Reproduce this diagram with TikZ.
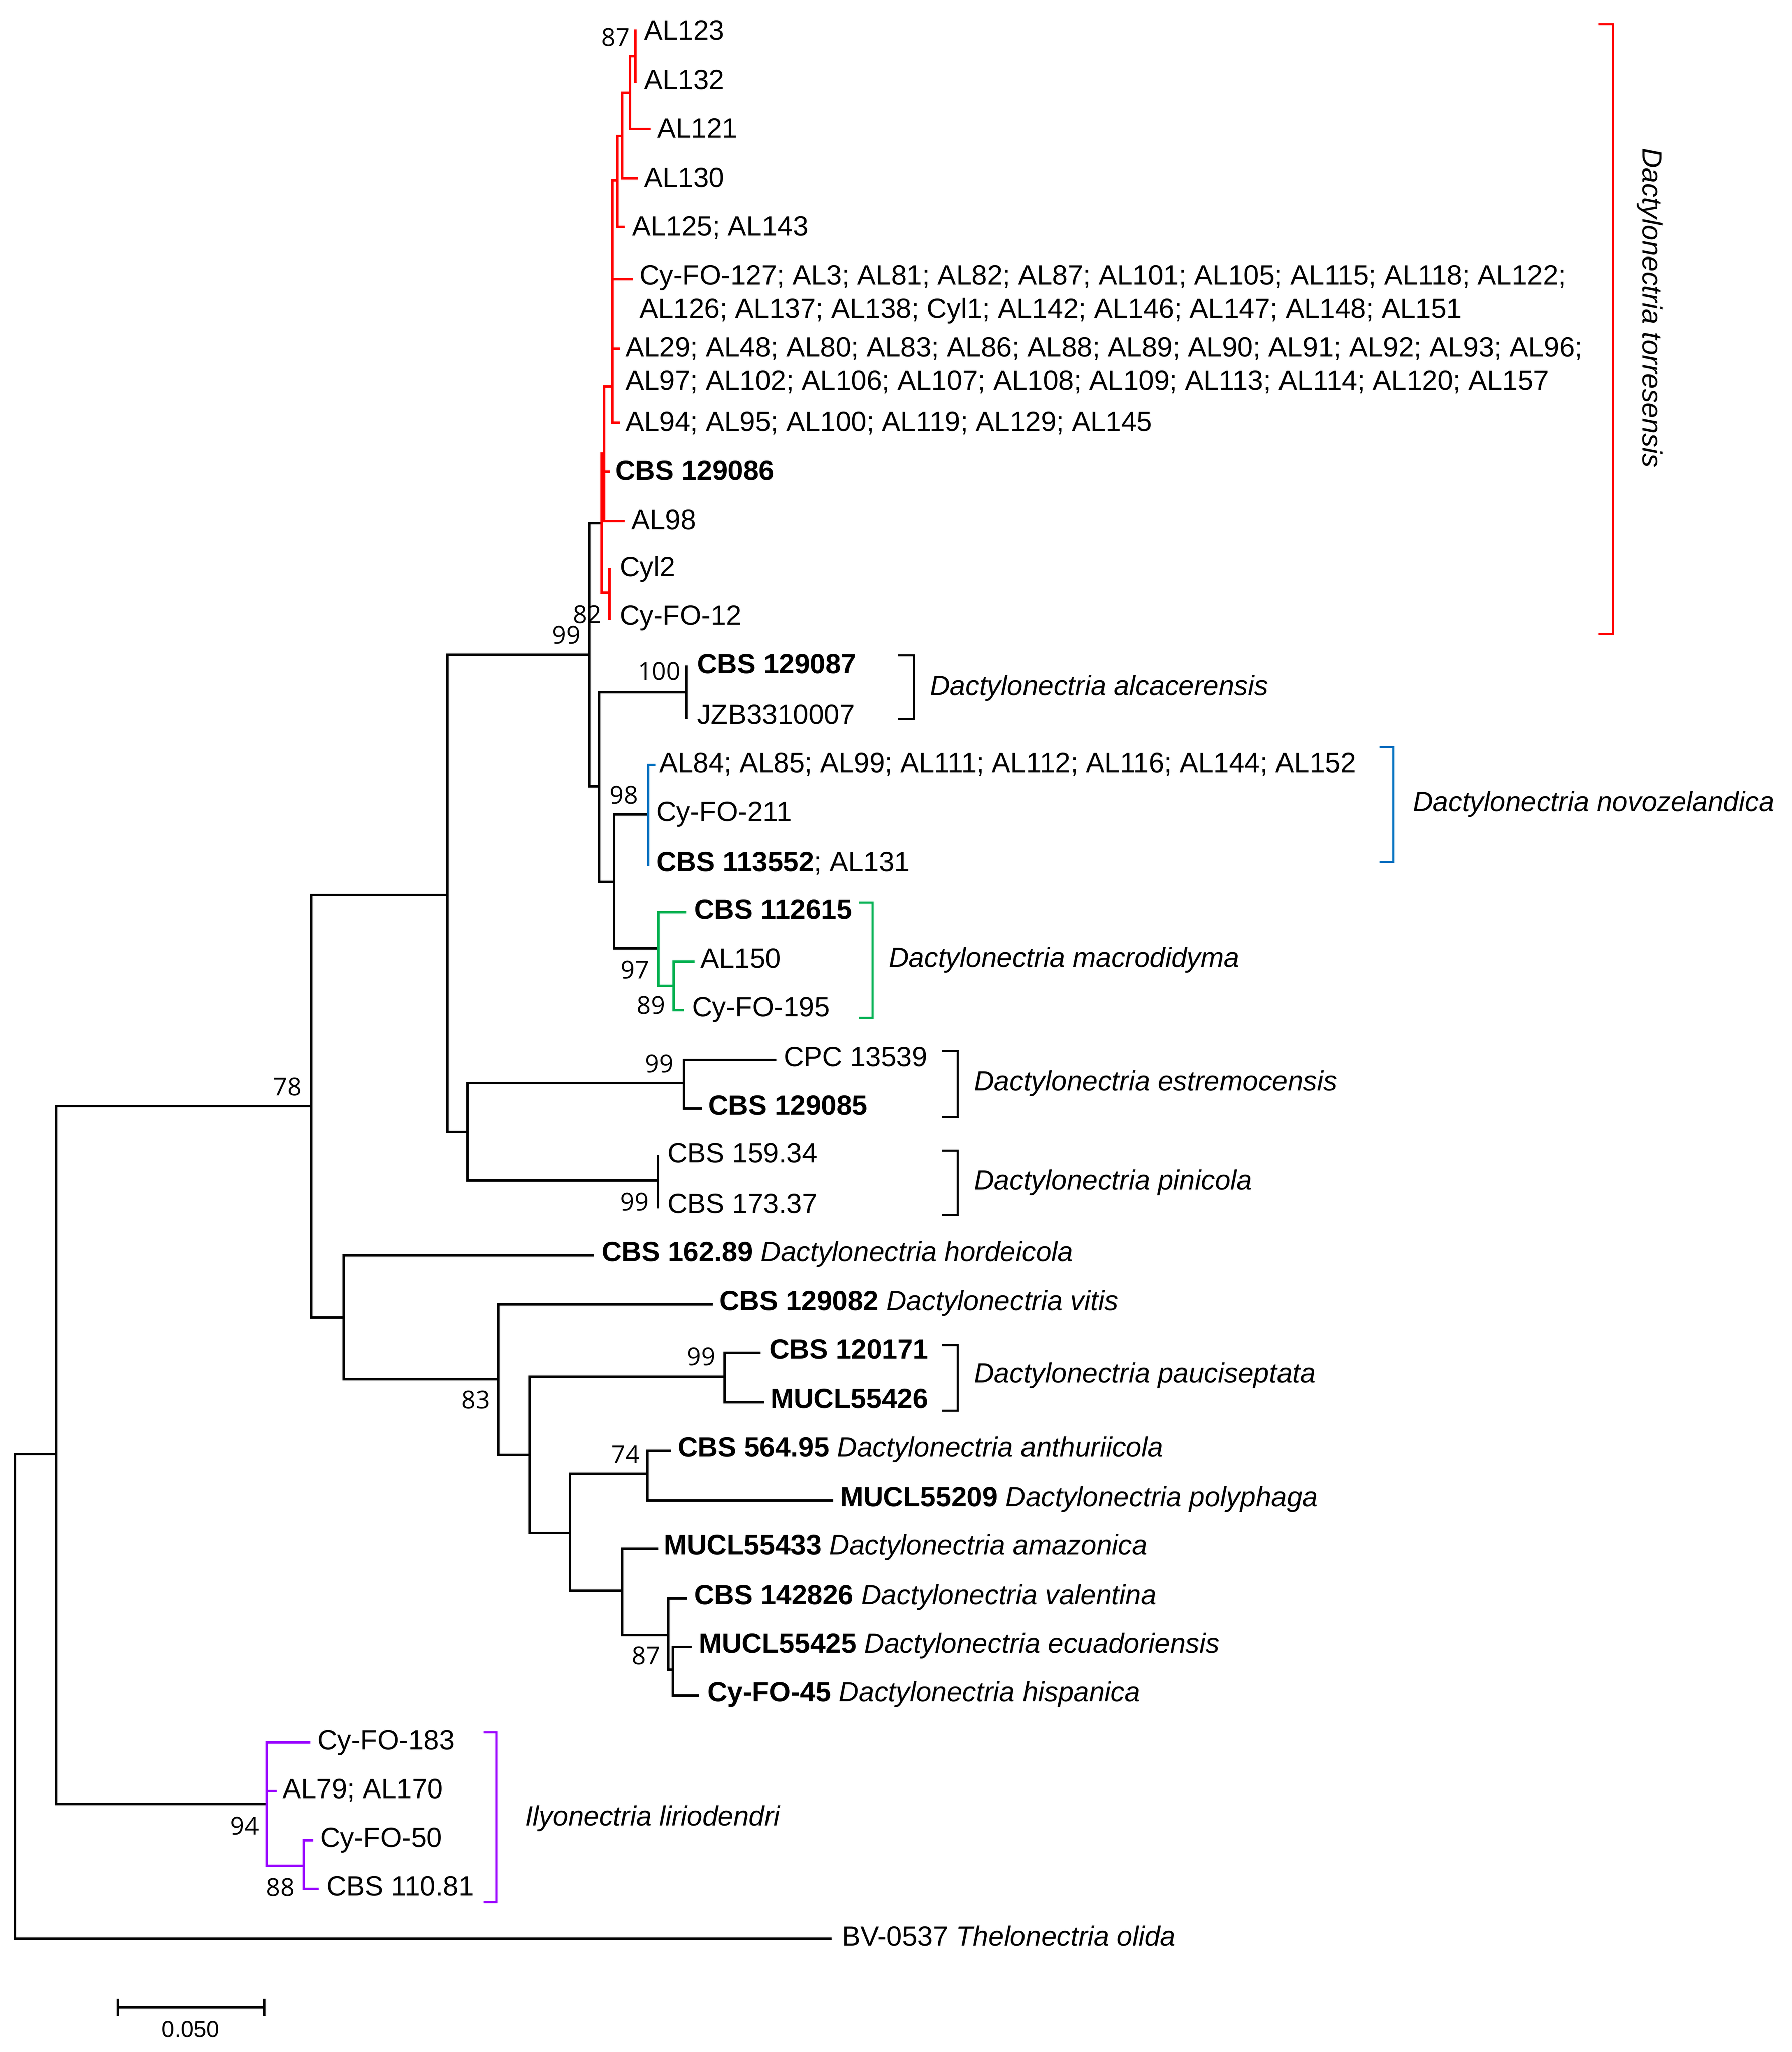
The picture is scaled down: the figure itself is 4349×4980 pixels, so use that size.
\documentclass[tikz,border=0pt]{standalone}
\usepackage{fontspec}
\setmainfont{Liberation Sans}
\newfontfamily\bsfamily{Open Sans}
\definecolor{cladered}{RGB}{255,0,0}
\definecolor{cladeblue}{RGB}{0,112,192}
\definecolor{cladegreen}{RGB}{0,176,80}
\definecolor{cladepurple}{RGB}{153,0,255}
\tikzset{
  tree/.style={line width=0.6pt, line cap=rect, line join=miter},
  lab/.style={anchor=base west, inner sep=0pt, font=\fontsize{6.75pt}{8.1pt}\selectfont},
  splab/.style={anchor=base west, inner sep=0pt, font=\fontsize{6.75pt}{8.1pt}\selectfont\itshape},
  bs/.style={anchor=center, inner sep=0pt, font=\bsfamily\fontsize{6pt}{7pt}\selectfont},
  brk/.style={line width=0.5pt, line join=miter},
}
\begin{document}
\begin{tikzpicture}[x=0.1pt, y=-0.1pt]
\useasboundingbox (0,0) rectangle (4349,4980);
% ---------- internal nodes ----------
\coordinate (root) at (36,4117);
\coordinate (ning) at (136,3529);
\coordinate (n78) at (755,2684);
\coordinate (n1086) at (1086,2172);
\coordinate (n99) at (1430,1589);
\coordinate (nA) at (1460,1269);
\coordinate (nB) at (1466,1101);
\coordinate (nD) at (1486,938);
\coordinate (nF) at (1498,438);
\coordinate (nG) at (1510,330);
\coordinate (nH) at (1529,225);
\coordinate (nI) at (1542,136);
\coordinate (nE) at (1479,1438);
\coordinate (n1454) at (1454,1908);
\coordinate (nalc) at (1666,1680);
\coordinate (n1490) at (1490,2140);
\coordinate (nblue) at (1573,1976);
\coordinate (ngreen) at (1598,2302);
\coordinate (ngreenb) at (1635,2393);
\coordinate (n1135) at (1135,2747);
\coordinate (nestr) at (1660,2628);
\coordinate (npin) at (1597,2865);
\coordinate (n834) at (834,3197);
\coordinate (n83) at (1210,3347);
\coordinate (n1285) at (1285,3531);
\coordinate (npauc) at (1759,3341);
\coordinate (n1383) at (1383,3721);
\coordinate (n74) at (1571,3577);
\coordinate (n1510) at (1510,3860);
\coordinate (n1622) at (1622,3968);
\coordinate (n87) at (1633,4052);
\coordinate (npur) at (647,4378);
\coordinate (npurb) at (737,4528);
% ---------- tips ----------
\coordinate (t1) at (1542,74);
\coordinate (t2) at (1542,198);
\coordinate (t3) at (1576,313);
\coordinate (t4) at (1545,433);
\coordinate (t5) at (1513,551);
\coordinate (t6) at (1533,677);
\coordinate (t7) at (1502,846);
\coordinate (t8) at (1502,1026);
\coordinate (t9) at (1477,1145);
\coordinate (t10) at (1513,1264);
\coordinate (t11) at (1479,1381);
\coordinate (t12) at (1479,1502);
\coordinate (t13) at (1666,1618);
\coordinate (t14) at (1666,1742);
\coordinate (t15) at (1588,1857);
\coordinate (t16) at (1573,1976);
\coordinate (t17) at (1573,2099);
\coordinate (t18) at (1663,2214);
\coordinate (t19) at (1683,2334);
\coordinate (t20) at (1657,2452);
\coordinate (t21) at (1881,2572);
\coordinate (t22) at (1701,2690);
\coordinate (t23) at (1597,2806);
\coordinate (t24) at (1597,2930);
\coordinate (t25) at (1438,3047);
\coordinate (t26) at (1727,3165);
\coordinate (t27) at (1843,3283);
\coordinate (t28) at (1852,3403);
\coordinate (t29) at (1625,3521);
\coordinate (t30) at (2019,3642);
\coordinate (t31) at (1595,3758);
\coordinate (t32) at (1664,3879);
\coordinate (t33) at (1676,3997);
\coordinate (t34) at (1694,4115);
\coordinate (t35) at (750,4229);
\coordinate (t36) at (668,4347);
\coordinate (t37) at (757,4466);
\coordinate (t38) at (770,4584);
\coordinate (t39) at (2015,4705);
% ---------- black branches ----------
\draw[tree] (root) |- (ning);
\draw[tree] (root) |- (t39);
\draw[tree] (ning) |- (n78);
\draw[tree] (ning) |- (npur);
\draw[tree] (n78) |- (n1086);
\draw[tree] (n78) |- (n834);
\draw[tree] (n1086) |- (n99);
\draw[tree] (n1086) |- (n1135);
\draw[tree] (n99) |- (nA);
\draw[tree] (n99) |- (n1454);
\draw[tree] (n1454) |- (nalc);
\draw[tree] (nalc) |- (t13);
\draw[tree] (nalc) |- (t14);
\draw[tree] (n1454) |- (n1490);
\draw[tree] (n1490) |- (nblue);
\draw[tree] (n1490) |- (ngreen);
\draw[tree] (n1135) |- (nestr);
\draw[tree] (nestr) |- (t21);
\draw[tree] (nestr) |- (t22);
\draw[tree] (n1135) |- (npin);
\draw[tree] (npin) |- (t23);
\draw[tree] (npin) |- (t24);
\draw[tree] (n834) |- (t25);
\draw[tree] (n834) |- (n83);
\draw[tree] (n83) |- (t26);
\draw[tree] (n83) |- (n1285);
\draw[tree] (n1285) |- (npauc);
\draw[tree] (npauc) |- (t27);
\draw[tree] (npauc) |- (t28);
\draw[tree] (n1285) |- (n1383);
\draw[tree] (n1383) |- (n74);
\draw[tree] (n74) |- (t29);
\draw[tree] (n74) |- (t30);
\draw[tree] (n1383) |- (n1510);
\draw[tree] (n1510) |- (t31);
\draw[tree] (n1510) |- (n1622);
\draw[tree] (n1622) |- (t32);
\draw[tree] (n1622) |- (n87);
\draw[tree] (n87) |- (t33);
\draw[tree] (n87) |- (t34);
% ---------- red clade ----------
\begin{scope}[cladered]
\draw[tree] (nA) |- (nB);
\draw[tree] (nA) |- (nE);
\draw[tree] (nE) |- (t11);
\draw[tree] (nE) |- (t12);
\draw[tree] (nB) |- (nD);
\draw[tree] (nB) |- (t9);
\draw[tree] (nB) |- (t10);
\draw[tree] (nD) |- (nF);
\draw[tree] (nD) |- (t6);
\draw[tree] (nD) |- (t7);
\draw[tree] (nD) |- (t8);
\draw[tree] (nF) |- (nG);
\draw[tree] (nF) |- (t5);
\draw[tree] (nG) |- (nH);
\draw[tree] (nG) |- (t4);
\draw[tree] (nH) |- (nI);
\draw[tree] (nH) |- (t3);
\draw[tree] (nI) |- (t1);
\draw[tree] (nI) |- (t2);
\end{scope}
% ---------- blue clade ----------
\begin{scope}[cladeblue]
\draw[tree] (nblue) |- (t15);
\draw[tree] (nblue) |- (t16);
\draw[tree] (nblue) |- (t17);
\end{scope}
% ---------- green clade ----------
\begin{scope}[cladegreen]
\draw[tree] (ngreen) |- (t18);
\draw[tree] (ngreen) |- (ngreenb);
\draw[tree] (ngreenb) |- (t19);
\draw[tree] (ngreenb) |- (t20);
\end{scope}
% ---------- purple clade ----------
\begin{scope}[cladepurple]
\draw[tree] (npur) |- (t35);
\draw[tree] (npur) |- (t36);
\draw[tree] (npur) |- (npurb);
\draw[tree] (npurb) |- (t37);
\draw[tree] (npurb) |- (t38);
\end{scope}
% ---------- leaf labels ----------
\node[lab] (l1) at (1561,74+22) {AL123};
\node[lab] (l2) at (1561,195+21) {AL132};
\node[lab] (l3) at (1593,313+21) {AL121};
\node[lab] (l4) at (1561,433+21) {AL130};
\node[lab] (l5) at (1532,551+21) {AL125; AL143};
\node[lab] (l6) at (1550,690) {\vtop{\hbox{Cy-FO-127; AL3; AL81; AL82; AL87; AL101; AL105; AL115; AL118; AL122;}\hbox{AL126; AL137; AL138; Cyl1; AL142; AL146; AL147; AL148; AL151}}};
\node[lab] (l7) at (1516,865) {\vtop{\hbox{AL29; AL48; AL80; AL83; AL86; AL88; AL89; AL90; AL91; AL92; AL93; AL96;}\hbox{AL97; AL102; AL106; AL107; AL108; AL109; AL113; AL114; AL120; AL157}}};
\node[lab] (l8) at (1516,1026+20) {AL94; AL95; AL100; AL119; AL129; AL145};
\node[lab] (l9) at (1491,1145+20) {\textbf{CBS 129086}};
\node[lab] (l10) at (1530,1264+20) {AL98};
\node[lab] (l11) at (1502,1378+20) {Cyl2};
\node[lab] (l12) at (1502,1496+20) {Cy-FO-12};
\node[lab] (l13) at (1690,1618+16) {\textbf{CBS 129087}};
\node[lab] (l14) at (1690,1742+15) {JZB3310007};
\node[lab] (l15) at (1598,1857+17) {AL84; AL85; AL99; AL111; AL112; AL116; AL144; AL152};
\node[lab] (l16) at (1591,1976+16) {Cy-FO-211};
\node[lab] (l17) at (1591,2099+15) {\textbf{CBS 113552}; AL131};
\node[lab] (l18) at (1683,2214+16) {\textbf{CBS 112615}};
\node[lab] (l19) at (1698,2334+15) {AL150};
\node[lab] (l20) at (1678,2452+15) {Cy-FO-195};
\node[lab] (l21) at (1900,2572+15) {CPC 13539};
\node[lab] (l22) at (1717,2690+15) {\textbf{CBS 129085}};
\node[lab] (l23) at (1618,2806+15) {CBS 159.34};
\node[lab] (l24) at (1618,2930+14) {CBS 173.37};
\node[lab] (l25) at (1458,3047+14) {\textbf{CBS 162.89} \textit{Dactylonectria hordeicola}};
\node[lab] (l26) at (1744,3165+14) {\textbf{CBS 129082} \textit{Dactylonectria vitis}};
\node[lab] (l27) at (1865,3283+14) {\textbf{CBS 120171}};
\node[lab] (l28) at (1868,3403+14) {\textbf{MUCL55426}};
\node[lab] (l29) at (1643,3521+14) {\textbf{CBS 564.95} \textit{Dactylonectria anthuriicola}};
\node[lab] (l30) at (2037,3642+14) {\textbf{MUCL55209} \textit{Dactylonectria polyphaga}};
\node[lab] (l31) at (1609,3758+14) {\textbf{MUCL55433} \textit{Dactylonectria amazonica}};
\node[lab] (l32) at (1683,3879+14) {\textbf{CBS 142826} \textit{Dactylonectria valentina}};
\node[lab] (l33) at (1694,3997+14) {\textbf{MUCL55425} \textit{Dactylonectria ecuadoriensis}};
\node[lab] (l34) at (1715,4115+14) {\textbf{Cy-FO-45} \textit{Dactylonectria hispanica}};
\node[lab] (l35) at (768,4229+17) {Cy-FO-183};
\node[lab] (l36) at (683,4347+17) {AL79; AL170};
\node[lab] (l37) at (775,4466+16) {Cy-FO-50};
\node[lab] (l38) at (790,4584+16) {CBS 110.81};
\node[lab] (l39) at (2041,4705+17) {BV-0537 \textit{Thelonectria olida}};
% ---------- bootstrap values ----------
\node[bs] (b1) at (1494,90) {87};
\node[bs] (b2) at (1425,1491) {82};
\node[bs] (b3) at (1374,1541) {99};
\node[bs] (b4) at (1600,1629) {100};
\node[bs] (b5) at (1514,1929) {98};
\node[bs] (b6) at (1541,2354) {97};
\node[bs] (b7) at (1580,2440) {89};
\node[bs] (b8) at (1600,2581) {99};
\node[bs] (b9) at (1540,2917) {99};
\node[bs] (b10) at (697,2637) {78};
\node[bs] (b11) at (1702,3292) {99};
\node[bs] (b12) at (1155,3397) {83};
\node[bs] (b13) at (1518,3530) {74};
\node[bs] (b14) at (1568,4018) {87};
\node[bs] (b15) at (594,4431) {94};
\node[bs] (b16) at (680,4580) {88};
% ---------- clade brackets ----------
\draw[brk, cladered] (3879,58) -- (3914,58) -- (3914,1538) -- (3879,1538);
\draw[brk] (2179,1590) -- (2218,1590) -- (2218,1745) -- (2179,1745);
\draw[brk, cladeblue] (3348,1813) -- (3381,1813) -- (3381,2091) -- (3348,2091);
\draw[brk, cladegreen] (2085,2190) -- (2117,2190) -- (2117,2470) -- (2085,2470);
\draw[brk] (2286,2550) -- (2324,2550) -- (2324,2710) -- (2286,2710);
\draw[brk] (2286,2792) -- (2324,2792) -- (2324,2948) -- (2286,2948);
\draw[brk] (2286,3264) -- (2324,3264) -- (2324,3423) -- (2286,3423);
\draw[brk, cladepurple] (1174,4204) -- (1205,4204) -- (1205,4616) -- (1174,4616);
% ---------- clade names ----------
\node[splab, rotate=-90] (s1) at (3986,357) {Dactylonectria torresensis};
\node[splab] (s2) at (2255,1687) {Dactylonectria alcacerensis};
\node[splab] (s3) at (3427,1968) {Dactylonectria novozelandica};
\node[splab] (s4) at (2155,2347) {Dactylonectria macrodidyma};
\node[splab] (s5) at (2362,2646) {Dactylonectria estremocensis};
\node[splab] (s6) at (2362,2887) {Dactylonectria pinicola};
\node[splab] (s7) at (2362,3355) {Dactylonectria pauciseptata};
\node[splab] (s8) at (1272,4430) {Ilyonectria liriodendri};
% ---------- scale bar ----------
\coordinate (sbl) at (286,4872);
\coordinate (sbr) at (641,4872);
\draw[line width=0.6pt] (sbl) -- (sbr);
\draw[line width=0.6pt] ([yshift=2.1pt]sbl) -- ([yshift=-2.1pt]sbl);
\draw[line width=0.6pt] ([yshift=2.1pt]sbr) -- ([yshift=-2.1pt]sbr);
\node[anchor=center, inner sep=0pt, font=\fontsize{5.6pt}{6.5pt}\selectfont] (sbt) at (463,4925) {0.050};
\end{tikzpicture}
\end{document}
